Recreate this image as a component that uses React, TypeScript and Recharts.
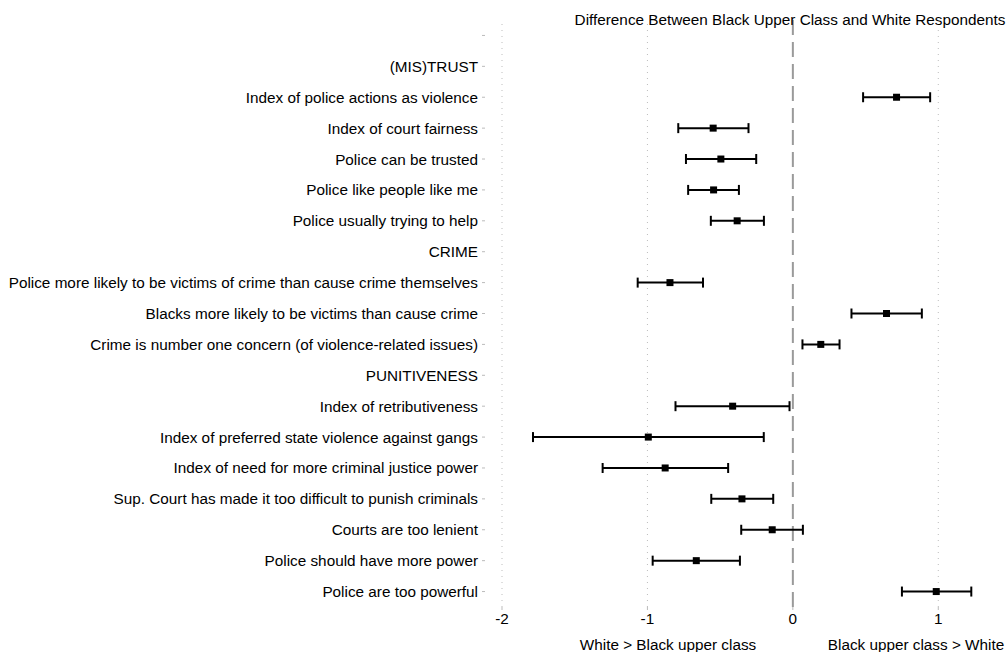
import React from "react";
import {
  ScatterChart,
  Scatter,
  XAxis,
  YAxis,
  ErrorBar,
  ReferenceLine
} from "recharts";

// rows from top to bottom, headers have no estimate
const rowLabels = [
  "",
  "(MIS)TRUST",
  "Index of police actions as violence",
  "Index of court fairness",
  "Police can be trusted",
  "Police like people like me",
  "Police usually trying to help",
  "CRIME",
  "Police more likely to be victims of crime than cause crime themselves",
  "Blacks more likely to be victims than cause crime",
  "Crime is number one concern (of violence-related issues)",
  "PUNITIVENESS",
  "Index of retributiveness",
  "Index of preferred state violence against gangs",
  "Index of need for more criminal justice power",
  "Sup. Court has made it too difficult to punish criminals",
  "Courts are too lenient",
  "Police should have more power",
  "Police are too powerful"
];

const estimates = [
  null, null, 0.713, -0.548, -0.495, -0.545, -0.383,
  null, -0.845, 0.644, 0.192,
  null, -0.414, -0.994, -0.878, -0.35, -0.142, -0.664, 0.986
];
const lowerCI = [
  null, null, 0.483, -0.788, -0.735, -0.72, -0.564,
  null, -1.067, 0.403, 0.066,
  null, -0.807, -1.787, -1.308, -0.561, -0.355, -0.964, 0.75
];
const upperCI = [
  null, null, 0.944, -0.305, -0.252, -0.371, -0.199,
  null, -0.618, 0.887, 0.321,
  null, -0.023, -0.2, -0.445, -0.135, 0.069, -0.364, 1.227
];

const xTicks = [-2, -1, 0, 1];
const gridXs = [-2, -1, 1];

const font = "'Liberation Sans', Arial, Helvetica, sans-serif";
const fs = 15.3;

const points = rowLabels
  .map((label, i) => {
    const est = estimates[i];
    if (est === null) return null;
    return {
      row: i,
      label,
      est,
      err: [est - (lowerCI[i] as number), (upperCI[i] as number) - est]
    };
  })
  .filter((d) => d !== null);

const RowTick = (props: any) => {
  const { x, y, payload } = props;
  const label = rowLabels[payload.value] ?? "";
  return (
    <g>
      <line x1={x - 20} x2={x - 17} y1={y} y2={y} stroke="#bbb" strokeWidth={1} />
      <text
        x={x - 24}
        y={y}
        dy="0.36em"
        textAnchor="end"
        fill="#000"
        fontSize={fs}
        fontFamily={font}
      >
        {label}
      </text>
    </g>
  );
};

const SquareDot = (props: any) => {
  const { cx, cy } = props;
  return <rect x={cx - 3.5} y={cy - 3.5} width={7} height={7} fill="#000" />;
};

const noteStyle: React.CSSProperties = {
  position: "absolute",
  textAlign: "center",
  fontSize: fs,
  lineHeight: "17px",
  color: "#000",
  whiteSpace: "nowrap"
};

const App: React.FC = () => {
  const rowTicks = rowLabels.map((_, i) => i);
  return (
    <div
      style={{
        position: "absolute",
        left: 0,
        top: 0,
        width: 1006,
        height: 652,
        overflow: "hidden",
        background: "#fff",
        fontFamily: font
      }}
    >
      <ScatterChart
        width={1011}
        height={652}
        margin={{ top: 20, right: 0, bottom: 15, left: 0 }}
      >
        <XAxis
          type="number"
          dataKey="est"
          domain={[-2, 1.5]}
          ticks={xTicks}
          allowDataOverflow
          axisLine={false}
          tickLine={{ stroke: "#bbb" }}
          tickSize={3}
          tickMargin={3}
          height={30}
          tick={{ fill: "#000", fontSize: fs, fontFamily: font }}
        />
        <YAxis
          type="number"
          dataKey="row"
          domain={[-0.5, rowLabels.length - 0.5]}
          ticks={rowTicks}
          interval={0}
          reversed
          allowDataOverflow
          width={502}
          axisLine={false}
          tickLine={false}
          tickSize={0}
          tickMargin={0}
          tick={<RowTick />}
        />
        {gridXs.map((v) => (
          <ReferenceLine
            key={v}
            x={v}
            stroke="#bdbdbd"
            strokeWidth={1}
            strokeDasharray="1 5"
          />
        ))}
        <ReferenceLine x={0} stroke="#9a9a9a" strokeWidth={2} strokeDasharray="15 7" />
        <Scatter data={points} shape={<SquareDot />} fill="#000" isAnimationActive={false}>
          <ErrorBar
            dataKey="err"
            direction="x"
            width={5}
            stroke="#000"
            strokeWidth={2}
            isAnimationActive={false}
          />
        </Scatter>
      </ScatterChart>
      <div style={{ ...noteStyle, left: 540, top: 11, width: 500 }}>
        Difference Between Black Upper Class and White Respondents
      </div>
      <div style={{ ...noteStyle, left: 568, top: 636, width: 200 }}>
        White &gt; Black upper class
      </div>
      <div style={{ ...noteStyle, left: 816, top: 636, width: 200 }}>
        Black upper class &gt; White
      </div>
    </div>
  );
};

export default App;
